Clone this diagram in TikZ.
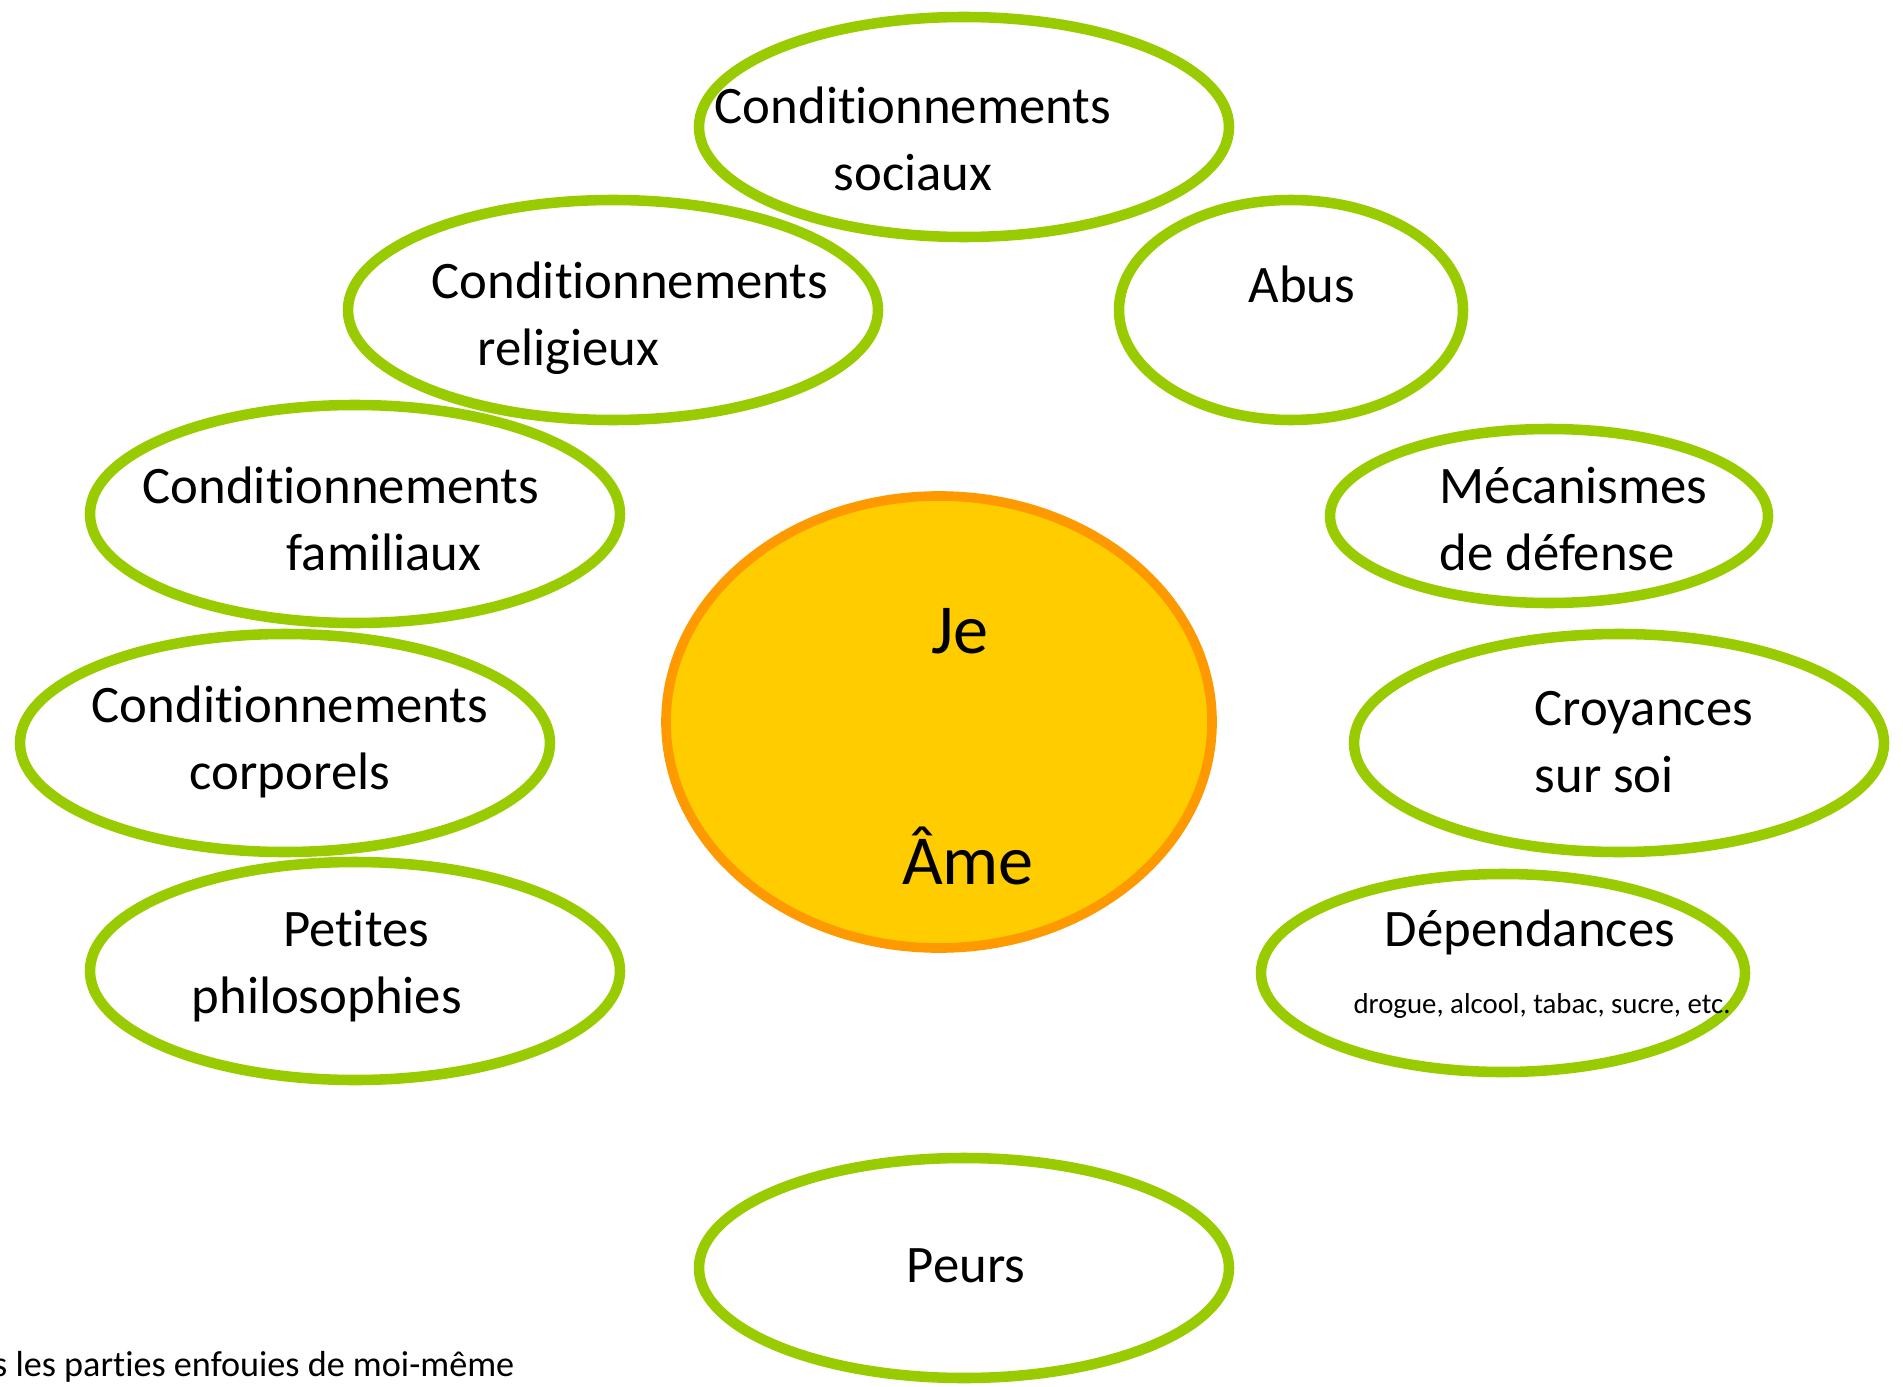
\documentclass[tikz,border=0pt]{standalone}
\usepackage{fontspec}
\setmainfont{Carlito}[Ligatures=NoCommon,RawFeature={-liga;-calt;-clig}]
\usetikzlibrary{shapes.geometric}
\definecolor{leaf}{HTML}{99CC00}
\definecolor{sunrim}{HTML}{FF9900}
\definecolor{sun}{HTML}{FFCC00}
\begin{document}
\begin{tikzpicture}[x=1cm,y=-1cm]
\useasboundingbox(0,0)rectangle(19.03,13.86);
\coordinate(CSoc)at(9.64,1.27);
\coordinate(CRel)at(6.13,3.10);
\coordinate(CAbu)at(12.91,3.10);
\coordinate(CFam)at(3.55,5.14);
\coordinate(CMec)at(15.49,5.16);
\coordinate(CAme)at(9.39,7.22);
\coordinate(CCor)at(2.85,7.43);
\coordinate(CCro)at(16.19,7.43);
\coordinate(CPet)at(3.55,9.71);
\coordinate(CDep)at(15.03,9.73);
\coordinate(CPeu)at(9.64,12.68);
\begin{scope}[every node/.style={ellipse,draw=leaf,line width=3pt,inner sep=0}]
\node[minimum width=5.30cm,minimum height=2.20cm](Soc)at(CSoc){};
\node[minimum width=5.30cm,minimum height=2.20cm](Rel)at(CRel){};
\node[minimum width=3.44cm,minimum height=2.20cm](Abu)at(CAbu){};
\node[minimum width=5.30cm,minimum height=2.18cm](Fam)at(CFam){};
\node[minimum width=4.38cm,minimum height=1.74cm](Mec)at(CMec){};
\node[minimum width=5.30cm,minimum height=2.18cm](Cor)at(CCor){};
\node[minimum width=5.30cm,minimum height=2.18cm](Cro)at(CCro){};
\node[minimum width=5.30cm,minimum height=2.18cm](Pet)at(CPet){};
\node[minimum width=4.84cm,minimum height=1.98cm](Dep)at(CDep){};
\node[minimum width=5.30cm,minimum height=2.20cm](Peu)at(CPeu){};
\node[draw=sunrim,fill=sun,line width=2.75pt,minimum width=5.46cm,minimum height=4.52cm](Ame)at(CAme){};
\end{scope}
\begin{scope}[every node/.style={inner sep=0,font=\fontsize{15}{19}\selectfont}]
\node[align=center](TSoc)at(9.13,1.39){Conditionnements\\sociaux};
\node[align=left,anchor=west](TRel)at(4.31,3.18){Conditionnements\\\hspace*{13pt}religieux};
\node[align=left,anchor=west](TFam)at(1.42,5.19){Conditionnements\\\hspace*{41pt}familiaux};
\node[align=center](TCor)at(2.90,7.42){Conditionnements\\corporels};
\node[align=left,anchor=west](TPet)at(1.91,9.66){\hspace*{26pt}Petites\\philosophies};
\node(TAbu)at(13.02,2.84){Abus};
\node[align=left,anchor=west](TMec)at(14.39,5.19){Mécanismes\\de défense};
\node[align=left,anchor=west](TCro)at(15.34,7.42){Croyances\\sur soi};
\node(TDep)at(15.30,9.32){Dépendances};
\node[font=\fontsize{8.2}{10}\selectfont](TDrg)at(15.42,10.06){drogue, alcool, tabac, sucre, etc.};
\node[font=\fontsize{20}{24}\selectfont](TJe)at(9.60,6.31){Je};
\node[font=\fontsize{20}{24}\selectfont](TAm)at(9.68,8.56){Âme};
\node(TPeu)at(9.66,12.66){Peurs};
\node[anchor=east,font=\fontsize{10.3}{13}\selectfont](TBas)at(5.15,13.67){s les parties enfouies de moi-même};
\end{scope}
\end{tikzpicture}
\end{document}
